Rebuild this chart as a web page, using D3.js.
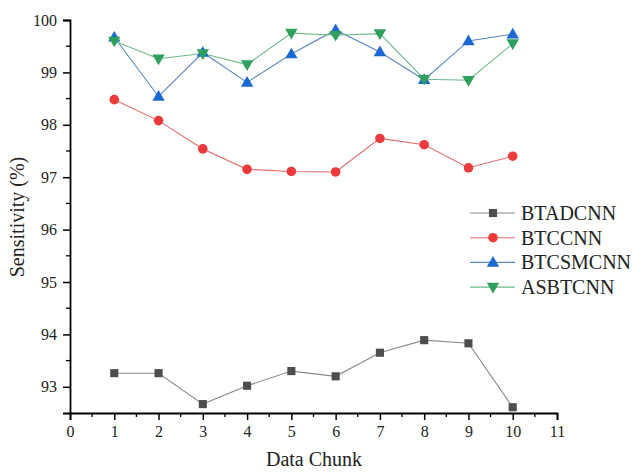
<!DOCTYPE html>
<html>
<head>
<meta charset="utf-8">
<script src="https://cdn.jsdelivr.net/npm/d3@7"></script>
<style>
  html, body { margin: 0; padding: 0; background: #fff; }
  svg { display: block; }
  svg text { font-family: "Liberation Serif", "DejaVu Serif", serif !important; }
</style>
</head>
<body>
<svg id="chart" width="633" height="472"></svg>
<script>
// Data chunks 1..10 and sensitivity (%) per model
const chunks = [1, 2, 3, 4, 5, 6, 7, 8, 9, 10];
const btadcnn  = [93.26, 93.26, 92.67, 93.02, 93.30, 93.20, 93.65, 93.89, 93.83, 92.61];
const btccnn   = [98.48, 98.08, 97.54, 97.15, 97.11, 97.10, 97.74, 97.62, 97.18, 97.40];
const btcsmcnn = [99.67, 98.54, 99.38, 98.81, 99.35, 99.81, 99.39, 98.86, 99.60, 99.73];
const asbtcnn  = [99.60, 99.26, 99.36, 99.15, 99.75, 99.71, 99.74, 98.87, 98.85, 99.55];
const seriesNames = ["BTADCNN", "BTCCNN", "BTCSMCNN", "ASBTCNN"];
const xTicks = [0, 1, 2, 3, 4, 5, 6, 7, 8, 9, 10, 11];
const yTicks = [93, 94, 95, 96, 97, 98, 99, 100];

const series = [
  { name: seriesNames[0], values: btadcnn,  marker: "square",   fill: "#4d4d4d", line: "#8a8a8a" },
  { name: seriesNames[1], values: btccnn,   marker: "circle",   fill: "#ec3a3c", line: "#e56a6a" },
  { name: seriesNames[2], values: btcsmcnn, marker: "triUp",    fill: "#1c68d2", line: "#5b86c2" },
  { name: seriesNames[3], values: asbtcnn,  marker: "triDown",  fill: "#2e9f5c", line: "#6cb88a" }
];

const svg = d3.select("#chart");
const plotLeft = 70, plotRight = 557, plotTop = 20, plotBottom = 413;

const x = d3.scaleLinear().domain([0, 11]).range([plotLeft, plotRight]);
const y = d3.scaleLinear().domain([92.5, 100]).range([plotBottom, plotTop]);

// Marker shapes
function markerPath(kind) {
  if (kind === "square") return d3.symbol(d3.symbolSquare, 66)();
  if (kind === "circle") return d3.symbol(d3.symbolCircle, 72)();
  if (kind === "triUp") return "M0,-6.4L6.2,4.3L-6.2,4.3Z";
  return "M0,6.4L6.2,-4.3L-6.2,-4.3Z";
}

// Minor ticks (half steps)
const xMinor = d3.range(0.5, 11, 1);
const yMinorTicks = [93.5, 94.5, 95.5, 96.5, 97.5, 98.5, 99.5];

const axisG = svg.append("g");

// X axis
const xAxis = axisG.append("g")
  .attr("transform", `translate(0,${plotBottom})`)
  .call(d3.axisBottom(x).tickValues(xTicks).tickFormat(d3.format("d")).tickSizeOuter(0).tickSize(7).tickPadding(6));
xAxis.append("g").selectAll("line").data(xMinor).join("line")
  .attr("x1", d => x(d)).attr("x2", d => x(d)).attr("y1", 0).attr("y2", 4)
  .attr("stroke", "#000").attr("stroke-width", 1.3);

// Y axis
const yAxis = axisG.append("g")
  .attr("transform", `translate(${plotLeft},0)`)
  .call(d3.axisLeft(y).tickValues(yTicks).tickFormat(d3.format("d")).tickSizeOuter(0).tickSize(7).tickPadding(6));
yAxis.append("g").selectAll("line").data(yMinorTicks).join("line")
  .attr("x1", 0).attr("x2", -4).attr("y1", d => y(d)).attr("y2", d => y(d))
  .attr("stroke", "#000").attr("stroke-width", 1.3);

axisG.selectAll(".domain").attr("stroke", "#000").attr("stroke-width", 1.8);
axisG.selectAll(".tick line").attr("stroke", "#000").attr("stroke-width", 1.5);
axisG.selectAll(".tick text")
  .style("font-size", "16px").attr("fill", "#222");

// Axis titles
svg.append("text")
  .attr("x", 314).attr("y", 466)
  .attr("text-anchor", "middle")
  .style("font-size", "20px").attr("fill", "#222")
  .text("Data Chunk");
svg.append("text")
  .attr("transform", "translate(24,217) rotate(-90)")
  .attr("text-anchor", "middle")
  .style("font-size", "20px").attr("fill", "#222")
  .text("Sensitivity (%)");

// Lines and markers
const line = d3.line().x((d, i) => x(chunks[i])).y(d => y(d));
const plot = svg.append("g");
series.forEach(s => {
  plot.append("path")
    .datum(s.values)
    .attr("d", line)
    .attr("fill", "none")
    .attr("stroke", s.line)
    .attr("stroke-width", 1.1);
});
series.forEach(s => {
  plot.append("g").selectAll("path").data(s.values).join("path")
    .attr("transform", (d, i) => `translate(${x(chunks[i])},${y(d)})`)
    .attr("d", markerPath(s.marker))
    .attr("fill", s.fill);
});

// Legend
const legend = svg.append("g").attr("transform", "translate(470,213)");
series.forEach((s, i) => {
  const g = legend.append("g").attr("transform", `translate(0,${i * 24.7})`);
  g.append("line").attr("x1", 0).attr("x2", 45).attr("y1", 0).attr("y2", 0)
    .attr("stroke", s.line).attr("stroke-width", 1.1);
  g.append("path").attr("transform", "translate(23,0)")
    .attr("d", markerPath(s.marker)).attr("fill", s.fill);
  g.append("text").attr("x", 51).attr("y", 7)
    .style("font-size", "20px").attr("fill", "#222")
    .text(s.name);
});
</script>
</body>
</html>
